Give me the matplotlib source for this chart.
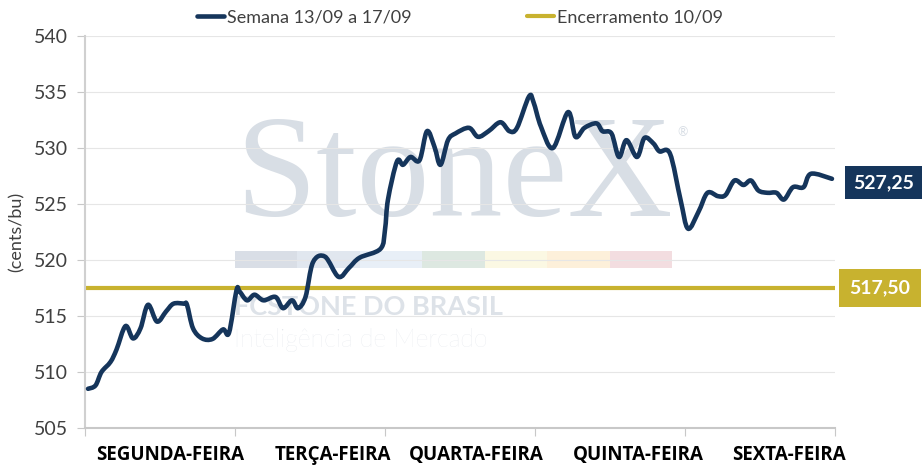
import matplotlib.pyplot as plt
from matplotlib.patches import Rectangle, PathPatch
from matplotlib.path import Path
from matplotlib.lines import Line2D

# dados (tempo em dias a partir de segunda 00h, preco em cents/bu)
dias = ["SEGUNDA-FEIRA", "TERÇA-FEIRA", "QUARTA-FEIRA", "QUINTA-FEIRA", "SEXTA-FEIRA"]
tempo = [0.02, 0.07, 0.11, 0.17, 0.21, 0.27, 0.32, 0.37, 0.42, 0.48, 0.54, 0.59, 0.66, 0.68,
         0.72, 0.78, 0.85, 0.92, 0.96, 1.01, 1.03, 1.08, 1.13, 1.19, 1.27, 1.32, 1.38, 1.42,
         1.47, 1.52, 1.60, 1.69, 1.76, 1.83, 1.97, 2.00, 2.02, 2.08, 2.12, 2.17, 2.23, 2.28,
         2.33, 2.37, 2.42, 2.47, 2.56, 2.62, 2.69, 2.77, 2.83, 2.88, 2.96, 2.99, 3.04, 3.12,
         3.22, 3.27, 3.33, 3.41, 3.45, 3.51, 3.56, 3.61, 3.68, 3.73, 3.79, 3.83, 3.90, 3.97,
         4.02, 4.09, 4.15, 4.22, 4.27, 4.33, 4.39, 4.44, 4.49, 4.55, 4.61, 4.66, 4.72, 4.79, 4.84, 4.98]
preco = [508.5, 508.8, 510.0, 510.9, 512.0, 514.1, 513.0, 513.9, 516.0, 514.5, 515.4, 516.1, 516.1, 516.0,
         513.9, 513.0, 512.95, 513.8, 513.5, 517.3, 517.2, 516.4, 516.9, 516.4, 516.7, 515.7, 516.4, 515.7,
         516.7, 519.8, 520.3, 518.5, 519.3, 520.2, 521.0, 522.7, 525.4, 528.8, 528.5, 529.2, 528.9, 531.5,
         530.1, 528.5, 530.7, 531.3, 531.8, 531.0, 531.5, 532.3, 531.5, 531.8, 534.6, 534.1, 531.9, 530.0,
         533.2, 531.0, 531.8, 532.2, 531.5, 531.3, 529.2, 530.7, 529.2, 530.9, 530.4, 529.7, 529.5, 525.4,
         522.8, 524.3, 526.0, 525.7, 525.8, 527.1, 526.7, 527.1, 526.2, 526.0, 526.0, 525.4, 526.5, 526.5, 527.7, 527.25]
encerramento = 517.50
ultimo = preco[-1]

navy = "#15355b"
gold = "#c8b22f"


def curva_suave(xs, ys):
    # linha suavizada (estilo Excel) com curvas de Bezier passando pelos pontos
    pts = list(zip(xs, ys))
    verts = [pts[0]]
    codes = [Path.MOVETO]
    n = len(pts)
    for i in range(n - 1):
        p0 = pts[max(i - 1, 0)]
        p1 = pts[i]
        p2 = pts[i + 1]
        p3 = pts[min(i + 2, n - 1)]
        c1 = (p1[0] + (p2[0] - p0[0]) / 6, p1[1] + (p2[1] - p0[1]) / 6)
        c2 = (p2[0] - (p3[0] - p1[0]) / 6, p2[1] - (p3[1] - p1[1]) / 6)
        verts += [c1, c2, p2]
        codes += [Path.CURVE4] * 3
    return Path(verts, codes)


plt.rcParams["font.family"] = ["Lato", "DejaVu Sans"]
fig = plt.figure(figsize=(9.22, 4.67), dpi=100)
ax = fig.add_axes([0.0922, 0.0835, 0.8134, 0.8394])

# marca d'agua
wm = "#d8dee5"
ax.text(0.2, 0.632, "StoneX", transform=ax.transAxes, fontsize=105, family="Liberation Serif",
        color=wm, va="center", ha="left", zorder=0)
ax.text(0.79, 0.745, "®", transform=ax.transAxes, fontsize=9, color=wm, zorder=0)
faixa = ["#d9dee6", "#e1e7ef", "#e8eff7", "#dde8e1", "#fbf8e3", "#fdf0da", "#f3dde0"]
for i, c in enumerate(faixa):
    ax.add_patch(Rectangle((0.2 + i * 0.0833, 0.408), 0.0833, 0.043, transform=ax.transAxes,
                           color=c, lw=0, zorder=0))
ax.text(0.199, 0.288, "FCSTONE DO BRASIL", transform=ax.transAxes, fontsize=19.5, weight="bold",
        color="#dde2e8", va="baseline", zorder=0)
ax.text(0.199, 0.207, "Inteligência de Mercado", transform=ax.transAxes, fontsize=18, weight="light",
        color="#dfe3e9", va="baseline", zorder=0)

ax.add_patch(PathPatch(curva_suave(tempo, preco), fc="none", ec=navy, lw=3.3,
                       joinstyle="round", capstyle="round", zorder=3))
ax.axhline(encerramento, color=gold, lw=3, solid_capstyle="round", zorder=2)

ax.set_xlim(0, 5)
ax.set_ylim(505, 540)
ax.set_yticks(range(505, 541, 5))
ax.set_xticks(range(0, 6))
ax.set_xticklabels([])
# rotulos dos dias um pouco deslocados para a direita como no original
desloc = [0.07, 0.15, 0.11, 0.19, 0.19]
ax.set_xticks([i + 0.5 + d for i, d in enumerate(desloc)], minor=True)
ax.set_xticklabels(dias, minor=True, fontsize=13.5, weight="bold", family=["Open Sans", "DejaVu Sans"])
ax.tick_params(axis="x", which="minor", length=0, pad=12)
ax.tick_params(axis="x", which="major", length=6, color="#c8c8c8", direction="out")
ax.tick_params(axis="y", length=6, color="#c8c8c8", labelsize=14, labelcolor="#404040", pad=6)
ax.grid(axis="y", color="#e6e6e6", lw=0.8)
for s in ["top", "right"]:
    ax.spines[s].set_visible(False)
ax.spines["left"].set_color("#d0d0d0")
ax.spines["bottom"].set_color("#c8c8c8")
ax.spines["left"].set_linewidth(1.5)
ax.spines["bottom"].set_linewidth(1.5)
ax.set_ylabel("(cents/bu)", fontsize=13, color="#404040", labelpad=7)

handles = [Line2D([], [], color=navy, lw=3.3, solid_capstyle="round"),
           Line2D([], [], color=gold, lw=3, solid_capstyle="round")]
leg = ax.legend(handles, ["Semana 13/09 a 17/09", "Encerramento 10/09"], loc="lower center",
                bbox_to_anchor=(0.5, 0.985), ncol=2, frameon=False,
                fontsize=13, handlelength=1.5, handletextpad=0.15, columnspacing=6.4)
for t in leg.get_texts():
    t.set_color("#404040")

# caixas de valor
ax.annotate(f"{ultimo:.2f}".replace(".", ","), xy=(1.024, ultimo - 0.35), xycoords=("axes fraction", "data"),
            fontsize=14, weight="bold", color="white", va="center", ha="left",
            bbox=dict(boxstyle="square,pad=0.4", fc=navy, ec="none"))
ax.annotate(f"{encerramento:.2f}".replace(".", ","), xy=(1.019, encerramento), xycoords=("axes fraction", "data"),
            fontsize=14, weight="bold", color="white", va="center", ha="left",
            bbox=dict(boxstyle="square,pad=0.55", fc=gold, ec="none"))

fig.savefig("out.png", dpi=100)
